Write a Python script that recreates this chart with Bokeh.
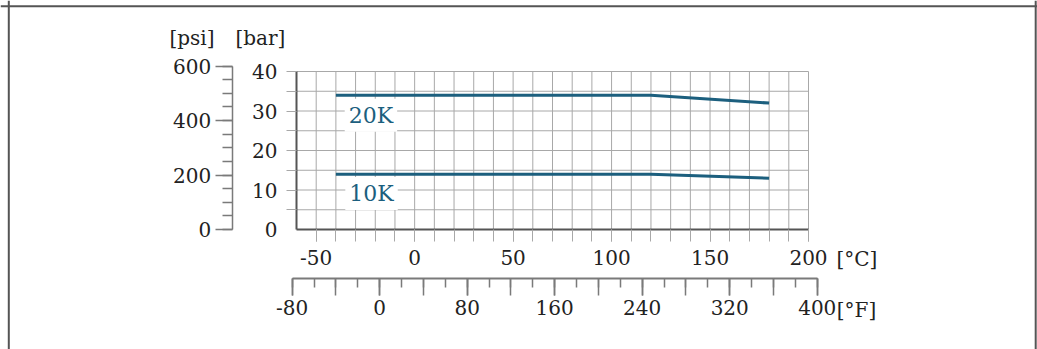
from bokeh.plotting import figure
from bokeh.models import LinearAxis, FixedTicker, Range1d, Label, Span
from bokeh.embed import file_html
from bokeh.resources import INLINE

# ---------------- data ----------------
TEMP_C = [-40, 120, 180]
P_20K_BAR = [34, 34, 32]
P_10K_BAR = [14, 14, 13]

C_LIMITS = (-60, 200)
BAR_LIMITS = (0, 40)
PSI_LIMITS = (0, 600)
F_LIMITS = (-80, 400)

C_LABEL_TICKS = [-50, 0, 50, 100, 150, 200]
C_GRID_TICKS = list(range(-50, 201, 10))
BAR_LABEL_TICKS = [0, 10, 20, 30, 40]
BAR_GRID_TICKS = [5, 10, 15, 20, 25, 30, 35, 40]
PSI_LABEL_TICKS = [0, 200, 400, 600]
PSI_MINOR_TICKS = list(range(0, 601, 50))
F_LABEL_TICKS = [-80, 0, 80, 160, 240, 320, 400]
F_MID_TICKS = list(range(-80, 401, 40))
F_MINOR_TICKS = list(range(-80, 401, 20))

PSI_PER_BAR = 14.5038


def c_to_f(c):
    return c * 9 / 5 + 32


def plain_labels(ticks):
    # hyphen-minus for negative tick labels, as in the original
    return {t: str(t) for t in ticks if t < 0}


# ---------------- layout ----------------
W, H = 1037, 349
PX_C = 512 / 260.0      # px per degC
PX_BAR = 158 / 40.0     # px per bar
ORIGIN_X = 296.0        # px of -60 degC
ORIGIN_Y = 229.0        # px (from top) of 0 bar

x0 = C_LIMITS[0] - ORIGIN_X / PX_C
x1 = x0 + W / PX_C
y0 = BAR_LIMITS[0] - (H - ORIGIN_Y) / PX_BAR
y1 = y0 + H / PX_BAR

PSI_AXIS_X = x0 + 231.7 / PX_C          # location of psi axis (degC units)
F_AXIS_Y = -(278 - ORIGIN_Y) / PX_BAR   # location of degF axis (bar units)

FONT = "DejaVu Serif"
TXT = "#222222"
GRID = "#a8a8a8"
AXIS_DARK = "#555555"
AXIS_MID = "#7a7a7a"
LINE = "#1c5f7e"
TICK_FS = "20px"

p = figure(width=W, height=H, x_range=Range1d(x0, x1), y_range=Range1d(y0, y1),
           x_axis_type=None, y_axis_type=None, toolbar_location=None,
           output_backend="svg", min_border=0)
p.title.visible = False
p.outline_line_color = None
p.background_fill_color = "white"
p.border_fill_color = "white"
p.extra_y_ranges = {"psi": Range1d(y0 * PSI_PER_BAR, y1 * PSI_PER_BAR)}
p.extra_x_ranges = {"F": Range1d(c_to_f(x0), c_to_f(x1))}

# grid (limited to the data area)
p.segment(x0=C_GRID_TICKS, x1=C_GRID_TICKS,
          y0=[BAR_LIMITS[0]] * len(C_GRID_TICKS), y1=[BAR_LIMITS[1]] * len(C_GRID_TICKS),
          line_color=GRID, line_width=1)
p.segment(x0=[C_LIMITS[0]] * len(BAR_GRID_TICKS), x1=[C_LIMITS[1]] * len(BAR_GRID_TICKS),
          y0=BAR_GRID_TICKS, y1=BAR_GRID_TICKS, line_color=GRID, line_width=1)

# series
p.line(TEMP_C, P_20K_BAR, line_color=LINE, line_width=3)
p.line(TEMP_C, P_10K_BAR, line_color=LINE, line_width=3)


def base_style(ax):
    ax.major_label_text_font = FONT
    ax.major_label_text_font_size = TICK_FS
    ax.major_label_text_color = TXT
    ax.major_tick_in = 0
    ax.minor_tick_in = 0


# bar axis
bar_ax = LinearAxis(fixed_location=C_LIMITS[0], bounds=BAR_LIMITS,
                    ticker=FixedTicker(ticks=BAR_LABEL_TICKS, minor_ticks=BAR_GRID_TICKS))
base_style(bar_ax)
bar_ax.axis_line_color = AXIS_DARK
bar_ax.axis_line_width = 2
bar_ax.major_tick_line_color = None
bar_ax.major_tick_out = 10
bar_ax.minor_tick_out = 10
bar_ax.minor_tick_line_color = GRID
bar_ax.minor_tick_line_width = 1
bar_ax.major_label_standoff = 9
p.add_layout(bar_ax, "left")

# psi axis
psi_ax = LinearAxis(y_range_name="psi", fixed_location=PSI_AXIS_X, bounds=PSI_LIMITS,
                    ticker=FixedTicker(ticks=PSI_LABEL_TICKS, minor_ticks=PSI_MINOR_TICKS))
base_style(psi_ax)
psi_ax.axis_line_color = AXIS_MID
psi_ax.axis_line_width = 1.5
psi_ax.major_tick_line_color = AXIS_MID
psi_ax.major_tick_line_width = 1.5
psi_ax.minor_tick_line_color = AXIS_MID
psi_ax.minor_tick_line_width = 1.5
psi_ax.major_tick_out = 17
psi_ax.minor_tick_out = 10
psi_ax.major_label_standoff = 4
p.add_layout(psi_ax, "left")

# degC axis
c_ax = LinearAxis(fixed_location=BAR_LIMITS[0], bounds=C_LIMITS,
                  ticker=FixedTicker(ticks=C_LABEL_TICKS, minor_ticks=C_GRID_TICKS))
base_style(c_ax)
c_ax.axis_line_color = AXIS_DARK
c_ax.axis_line_width = 2
c_ax.major_tick_line_color = GRID
c_ax.minor_tick_line_color = GRID
c_ax.major_tick_out = 12
c_ax.minor_tick_out = 12
c_ax.major_label_standoff = 8
c_ax.major_label_overrides = plain_labels(C_LABEL_TICKS)
p.add_layout(c_ax, "below")

# degF axis (labels + short ticks)
f_ax = LinearAxis(x_range_name="F", fixed_location=F_AXIS_Y, bounds=F_LIMITS,
                  ticker=FixedTicker(ticks=F_LABEL_TICKS, minor_ticks=F_MINOR_TICKS))
base_style(f_ax)
f_ax.axis_line_color = AXIS_MID
f_ax.axis_line_width = 2
f_ax.major_tick_line_color = AXIS_MID
f_ax.major_tick_line_width = 1.5
f_ax.minor_tick_line_color = AXIS_MID
f_ax.minor_tick_line_width = 1.5
f_ax.major_tick_out = 17
f_ax.minor_tick_out = 9
f_ax.major_label_standoff = 4
f_ax.major_label_overrides = plain_labels(F_LABEL_TICKS)
p.add_layout(f_ax, "below")

# degF axis long ticks every 40
f_ax2 = LinearAxis(x_range_name="F", fixed_location=F_AXIS_Y, bounds=F_LIMITS,
                   ticker=FixedTicker(ticks=[], minor_ticks=F_MID_TICKS))
f_ax2.axis_line_color = None
f_ax2.major_tick_line_color = None
f_ax2.minor_tick_in = 0
f_ax2.minor_tick_out = 17
f_ax2.minor_tick_line_color = AXIS_MID
f_ax2.minor_tick_line_width = 1.5
p.add_layout(f_ax2, "below")

# unit labels
for txt, lx, ly in [("[psi]", -113.1, 48.4), ("[bar]", -78.3, 48.4),
                    ("[°C]", 224.6, -7.35), ("[°F]", 224.4, -20.3)]:
    p.add_layout(Label(x=lx, y=ly, text=txt, text_align="center", text_baseline="middle",
                       text_font=FONT, text_font_size=TICK_FS, text_color=TXT))

# series labels
for txt, lx, ly in [("20K", -22.2, 28.9), ("10K", -21.9, 9.1)]:
    p.add_layout(Label(x=lx, y=ly, text=txt, text_align="center", text_baseline="middle",
                       text_font=FONT, text_font_size="22px", text_color=LINE,
                       background_fill_color="white", padding=4))

# frame border (left, right, top)
for loc in [x0 + 8.3 / PX_C, x0 + 1035.2 / PX_C]:
    p.add_layout(Span(location=loc, dimension="height", line_color=AXIS_DARK, line_width=2))
p.add_layout(Span(location=y1 - 5.8 / PX_BAR, dimension="width", line_color=AXIS_DARK, line_width=2))

open("out.html", "w").write(file_html(p, INLINE))
